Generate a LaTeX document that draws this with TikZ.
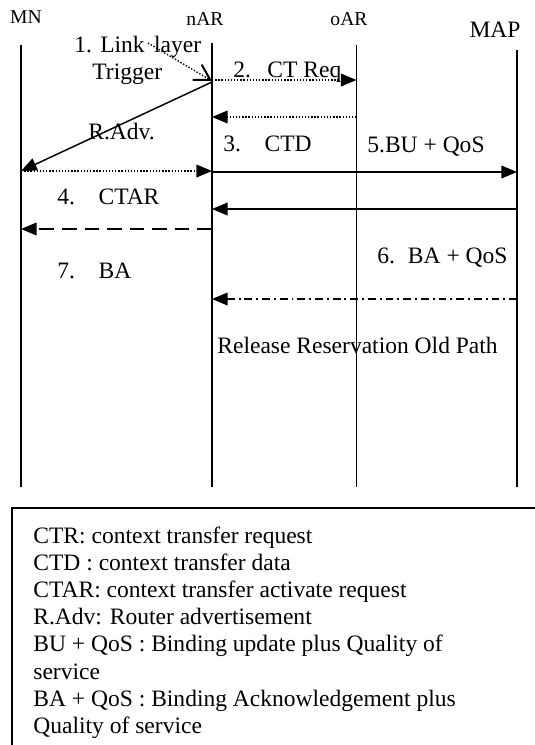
\documentclass[tikz,border=0pt]{standalone}
\usepackage{fontspec}
\setmainfont{Liberation Serif}
\usetikzlibrary{arrows.meta}

\tikzset{
  lifeline/.style={line width=0.9pt},
  fillhead/.style={-{Triangle[length=8pt,width=6.5pt]}},
  solidmsg/.style={fillhead, line width=0.75pt},
  dotmsg/.style={fillhead, line width=0.7pt, dash pattern=on 0.7pt off 0.9pt},
  dashmsg/.style={fillhead, line width=0.75pt, dash pattern=on 7.5pt off 4pt},
  dashdotmsg/.style={fillhead, line width=0.75pt, dash pattern=on 4pt off 2pt on 1pt off 2pt},
  trigmsg/.style={-{Straight Barb[angle=60:9pt, line width=1pt]}, line width=0.7pt, dash pattern=on 0.7pt off 0.9pt},
  lbl/.style={anchor=base, inner sep=0pt, font=\fontsize{10}{12}\selectfont},
  msgtext/.style={anchor=base west, inner sep=0pt, font=\fontsize{12}{14}\selectfont}
}

\begin{document}
\begin{tikzpicture}[x=0.51pt,y=0.51pt,yscale=-1]
\path[clip] (0,0) rectangle (535,745);

%Lifelines
\foreach \n/\x/\t in {MN/21/45, nAR/212/43, oAR/356.5/45, MAP/517/50}{
  \coordinate (top\n) at (\x,\t);
  \coordinate (bot\n) at (\x,487);
  \draw[lifeline] (top\n) -- (bot\n);
}

% Entity labels
\node[lbl] (MN) at (26,23.5) {MN};
\node[lbl] (nAR) at (205,25) {nAR};
\node[lbl] (oAR) at (349,25) {oAR};
\node[lbl, font=\fontsize{12}{14}\selectfont] (MAP) at (495,37) {MAP};

% Message levels
\coordinate (lvTrig) at (0,81);
\coordinate (lvReq) at (0,80);
\coordinate (lvReqBack) at (0,117);
\coordinate (lvAdvStart) at (0,82);
\coordinate (lvAdv) at (0,171);
\coordinate (lvCTD) at (0,172);
\coordinate (lvBA) at (0,209);
\coordinate (lvCTAR) at (0,229);
\coordinate (lvRel) at (0,299);

%Trigger
\coordinate (trigStart) at (148,43);
\draw[trigmsg] (trigStart) -- (topnAR |- lvTrig);

%Messages
\draw[dotmsg] (topnAR |- lvReq) -- (topoAR |- lvReq);
\draw[dotmsg] (topoAR |- lvReqBack) -- (topnAR |- lvReqBack);
\draw[solidmsg] (topnAR |- lvAdvStart) -- (topMN |- lvAdv);
\draw[dotmsg] (topMN |- lvAdv) -- (topnAR |- lvAdv);
\draw[solidmsg] (topnAR |- lvCTD) -- (topMAP |- lvCTD);
\draw[solidmsg] (topMAP |- lvBA) -- (topnAR |- lvBA);
\draw[dashmsg] (topnAR |- lvCTAR) -- (topMN |- lvCTAR);
\draw[dashdotmsg] (topMAP |- lvRel) -- (topnAR |- lvRel);

% Text Nodes
\node[msgtext] (tLink) at (74,52) {1.\hspace{0.35em}Link\hspace{0.4em}layer};
\node[msgtext] (tTrig) at (92,79) {Trigger};
\node[msgtext] (tReq) at (233,77) {2.\hspace{0.7em}CT Req};
\node[msgtext] (tAdv) at (88,139) {R.Adv.};
\node[msgtext] (tCTD) at (223,151) {3.\hspace{1em}CTD};
\node[msgtext] (tBU) at (367,152) {5.BU + QoS};
\node[msgtext] (tCTAR) at (57,204) {4.\hspace{1em}CTAR};
\node[msgtext] (tBAQ) at (377,263) {6.\hspace{0.55em}BA + QoS};
\node[msgtext] (tBA) at (57,278) {7.\hspace{1em}BA};
\node[msgtext] (tRel) at (217,353) {Release Reservation Old Path};

%Legend
\draw[line width=0.9pt] (12,508) rectangle (560,780);
\foreach \txt [count=\i] in {CTR: context transfer request,
    CTD : context transfer data,
    CTAR: context transfer activate request,
    R.Adv: Router advertisement,
    BU + QoS : Binding update plus Quality of,
    service,
    BA + QoS : Binding Acknowledgement plus,
    Quality of service}
  \node[msgtext] (leg\i) at (33,{543+27.2*(\i-1)}) {\txt};

\end{tikzpicture}
\end{document}
